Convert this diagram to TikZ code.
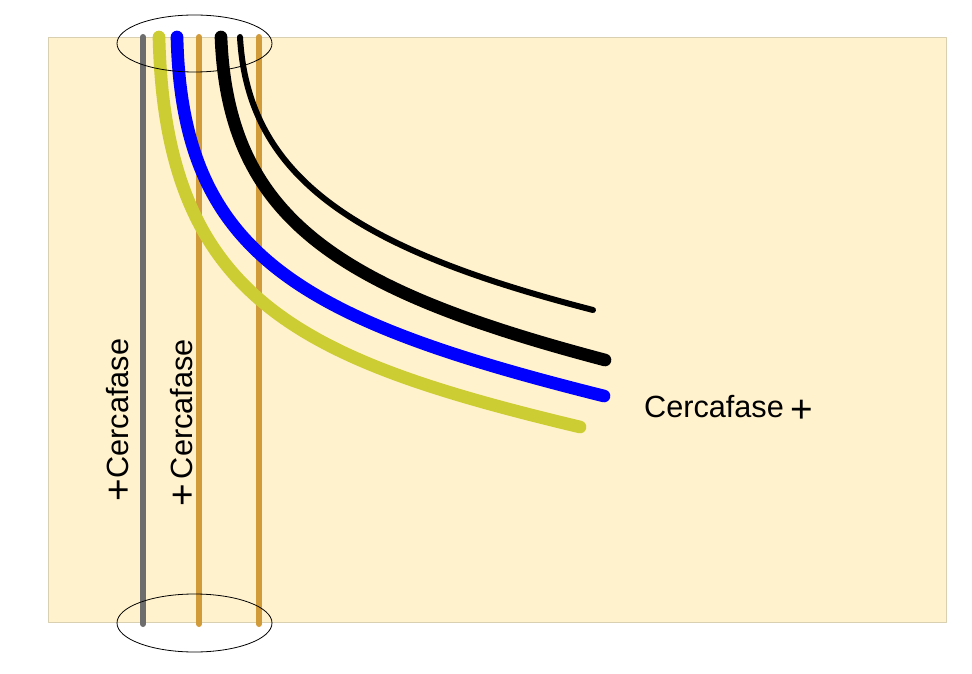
\documentclass[tikz,border=0pt]{standalone}
\usepackage{fontspec}
\setmainfont{Liberation Sans}
\usepackage{tikz}
\usetikzlibrary{calc}
\definecolor{cfback}{HTML}{FFF2CC}
\definecolor{cfedge}{HTML}{D8D0B0}
\definecolor{cfgray}{HTML}{6D6D6D}
\definecolor{cforange}{HTML}{D19B3A}
\definecolor{cfolive}{HTML}{CCCC33}
\tikzset{
  every picture/.style={line cap=round, line join=round},
  lbl/.style={font=\fontsize{23}{26}\selectfont, text=black, inner sep=0pt},
  strand/.style={line width=4.5pt},
  wire/.style={line width=9.5pt},
  thinwire/.style={line width=4.5pt},
  ring/.style={draw=black, line width=0.6pt},
}
\newcommand{\cfplus}{{\fontsize{29}{30}\selectfont +}}
\begin{document}
\begin{tikzpicture}[x=0.75pt, y=-0.75pt]
\useasboundingbox (0,0) rectangle (972,674);
% panel
\fill[cfback, draw=cfedge, line width=0.6pt] (48,37) rectangle (946,622);
% straight strands
\draw[strand, cfgray] (143,37) -- (143,624);
\draw[strand, cforange] (199,37) -- (199,624);
\draw[strand, cforange] (259,37) -- (259,624);
% bent strands
\draw[wire, cfolive] (159,37) .. controls (165,300) and (300,360) .. (580,427);
\draw[wire, blue] (177,37) .. controls (182,255) and (300,320) .. (604,396);
\draw[wire, black] (221,37) .. controls (228,220) and (340,290) .. (605,360);
\draw[thinwire, black] (240,37) .. controls (248,180) and (360,250) .. (593,310);
% bundle rings
\draw[ring] (194.5,43.5) ellipse[x radius=77.5, y radius=28.5];
\draw[ring] (194.5,623) ellipse[x radius=77.5, y radius=29];
% labels
\node[lbl, rotate=90] (labA) at (119,420) {\raisebox{-2pt}{\cfplus}Cercafase};
\node[lbl, rotate=90] (labB) at (183,423) {\raisebox{-2pt}{\cfplus}\,Cercafase};
\node[lbl] (labC) at (714,407) {Cercafase};
\node[lbl] (plusC) at (802,411) {\cfplus};
\end{tikzpicture}
\end{document}
